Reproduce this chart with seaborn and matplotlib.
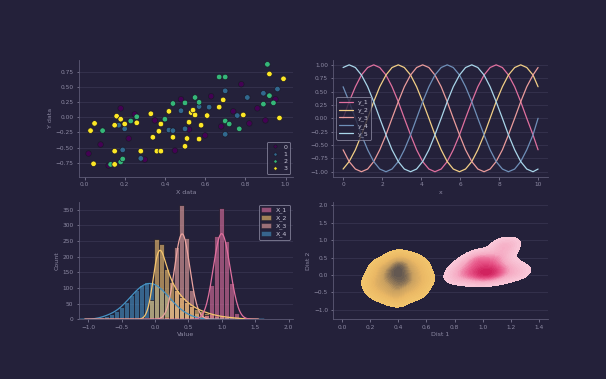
import matplotlib
matplotlib.use("Agg")
import matplotlib.pyplot as plt
import matplotlib.patches as mpatches
from matplotlib.colors import LinearSegmentedColormap
import pandas as pd
import seaborn as sns

BG = "#24213a"
FG = "#8d8aa3"
SPINE = "#5d5a75"
GRID = "#36334f"
EDGE = "#1b1929"

# --- top left: scatter, one list pair per group ---
g0_x = [0.02, 0.08, 0.12, 0.18, 0.22, 0.25, 0.30, 0.35, 0.45, 0.48, 0.52, 0.60, 0.63, 0.68, 0.74, 0.78, 0.82, 0.86, 0.90, 0.95]
g0_y = [-0.60, -0.45, -0.80, 0.15, -0.35, 0.05, -0.70, -0.05, -0.55, 0.30, -0.20, -0.30, 0.35, -0.15, 0.10, 0.55, -0.10, 0.15, -0.05, 0.30]
g1_x = [0.17, 0.19, 0.20, 0.28, 0.42, 0.44, 0.48, 0.50, 0.57, 0.62, 0.70, 0.70, 0.76, 0.81, 0.89, 0.96]
g1_y = [-0.13, -0.54, -0.19, -0.68, -0.21, -0.22, 0.11, -0.19, 0.18, 0.17, 0.44, -0.28, 0.03, 0.33, 0.40, 0.47]
g2_x = [0.09, 0.13, 0.18, 0.19, 0.23, 0.26, 0.40, 0.44, 0.50, 0.55, 0.57, 0.67, 0.70, 0.70, 0.72, 0.77, 0.89, 0.91, 0.92, 0.94]
g2_y = [-0.22, -0.78, -0.74, -0.69, -0.06, 0.01, -0.03, 0.23, 0.24, 0.33, 0.25, 0.67, 0.67, -0.06, -0.11, -0.19, 0.22, 0.88, 0.36, 0.24]
g3_x = [0.03, 0.05, 0.045, 0.15, 0.15, 0.15, 0.16, 0.18, 0.20, 0.26, 0.28, 0.33, 0.34, 0.36, 0.38, 0.37, 0.38,
        0.42, 0.44, 0.50, 0.51, 0.52, 0.53, 0.54, 0.55, 0.57, 0.58, 0.61, 0.67, 0.69, 0.79, 0.92, 0.97, 0.99]
g3_y = [-0.22, -0.10, -0.77, -0.78, -0.56, -0.13, 0.02, -0.03, -0.11, -0.09, -0.56, 0.06, -0.33, -0.56, -0.56, -0.23, -0.11,
        0.10, -0.33, -0.48, -0.35, -0.08, 0.08, 0.12, 0.04, -0.36, -0.13, 0.03, 0.17, 0.29, 0.04, 0.72, -0.01, 0.64]
scatter_colors = {0: "#440154", 1: "#31688e", 2: "#35b779", 3: "#fde725"}

# --- top right: five phase-shifted waves ---
line_x = [0.00, 0.31, 0.63, 0.94, 1.26, 1.57, 1.88, 2.20, 2.51, 2.83, 3.14, 3.46, 3.77, 4.08, 4.40, 4.71, 5.03,
          5.34, 5.65, 5.97, 6.28, 6.60, 6.91, 7.23, 7.54, 7.85, 8.17, 8.48, 8.80, 9.11, 9.42, 9.74, 10.00]
y_1 = [0, .31, .59, .81, .95, 1, .95, .81, .59, .31, 0, -.31, -.59, -.81, -.95, -1, -.95, -.81, -.59, -.31,
       0, .31, .59, .81, .95, 1, .95, .81, .59, .31, 0, -.31, -.59]
y_2 = [-.95, -.81, -.59, -.31, 0, .31, .59, .81, .95, 1, .95, .81, .59, .31, 0, -.31, -.59, -.81, -.95, -1,
       -.95, -.81, -.59, -.31, 0, .31, .59, .81, .95, 1, .95, .81, .59]
y_3 = [-.59, -.81, -.95, -1, -.95, -.81, -.59, -.31, 0, .31, .59, .81, .95, 1, .95, .81, .59, .31, 0, -.31,
       -.59, -.81, -.95, -1, -.95, -.81, -.59, -.31, 0, .31, .59, .81, .95]
y_4 = [.59, .31, 0, -.31, -.59, -.81, -.95, -1, -.95, -.81, -.59, -.31, 0, .31, .59, .81, .95, 1, .95, .81,
       .59, .31, 0, -.31, -.59, -.81, -.95, -1, -.95, -.81, -.59, -.31, 0]
y_5 = [.95, 1, .95, .81, .59, .31, 0, -.31, -.59, -.81, -.95, -1, -.95, -.81, -.59, -.31, 0, .31, .59, .81,
       .95, 1, .95, .81, .59, .31, 0, -.31, -.59, -.81, -.95, -1, -.95]
line_names = ["y_1", "y_2", "y_3", "y_4", "y_5"]
line_colors = ["#e0709f", "#f2cf86", "#eb9c9c", "#6f8fb8", "#a9d6ea"]

# --- bottom left: binned counts ---
hist_edges = [-0.9125, -0.8375, -0.7625, -0.6875, -0.6125, -0.5375, -0.4625, -0.3875, -0.3125, -0.2375,
              -0.1625, -0.0875, -0.0125, 0.0625, 0.1375, 0.2125, 0.2875, 0.3625, 0.4375, 0.5125, 0.5875,
              0.6625, 0.7375, 0.8125, 0.8875, 0.9625, 1.0375, 1.1125, 1.1875, 1.2625, 1.3375, 1.4125]
X_1 = [0] * 21 + [1, 15, 110, 265, 355, 250, 115, 20, 2, 0]
X_2 = [0] * 10 + [3, 60, 255, 240, 160, 120, 92, 72, 56, 44, 34, 27, 21, 16, 12, 9, 7, 5, 4, 2, 1]
X_3 = [0] * 14 + [8, 60, 230, 365, 260, 95, 20, 3] + [0] * 9
X_4 = [2, 6, 12, 18, 26, 39, 56, 76, 94, 109, 118, 119, 112, 98, 80, 60, 42, 28, 17, 10, 5, 2, 1] + [0] * 8
hist_names = ["X_1", "X_2", "X_3", "X_4"]
hist_colors = ["#e0709f", "#f5c46e", "#eca4a0", "#4592c4"]

# --- bottom right: two clusters for the density plot ---
gold_x = [0.40, 0.35, 0.45, 0.38, 0.42, 0.30, 0.50, 0.33, 0.47, 0.40, 0.28, 0.52, 0.37, 0.44, 0.25,
          0.55, 0.36, 0.43, 0.31, 0.49, 0.41, 0.39, 0.22, 0.58, 0.34, 0.46, 0.27, 0.53, 0.39, 0.41]
gold_y = [-0.07, 0.04, -0.13, -0.29, 0.14, -0.23, 0.04, 0.25, -0.40, 0.36, -0.02, -0.18, -0.56, 0.31, -0.40,
          0.20, 0.09, -0.23, -0.50, 0.34, -0.65, 0.43, -0.18, -0.13, -0.13, -0.02, 0.20, -0.45, -0.40, 0.20]
pink_x = [1.00, 1.05, 0.95, 1.08, 0.98, 1.02, 0.90, 1.12, 1.03, 0.97, 1.10, 0.92, 1.15, 0.88, 1.06,
          1.00, 1.18, 0.85, 1.13, 0.95, 1.07, 1.02, 0.99, 1.25, 0.82, 1.15, 0.94, 1.09, 1.16]
pink_y = [0.08, 0.00, 0.15, 0.15, -0.02, 0.30, 0.08, 0.08, -0.05, 0.45, 0.38, 0.30, -0.02, -0.02, 0.45,
          0.50, 0.22, 0.22, 0.55, -0.05, -0.02, 0.12, 0.22, 0.08, 0.00, 0.85, 0.45, 0.22, 0.80]

sns.set_theme(style="ticks", rc={
    "figure.facecolor": BG, "axes.facecolor": BG, "savefig.facecolor": BG,
    "axes.edgecolor": SPINE, "axes.labelcolor": FG, "text.color": FG,
    "xtick.color": FG, "ytick.color": FG, "axes.linewidth": 0.6,
    "axes.grid": True, "axes.grid.axis": "y", "grid.color": GRID, "grid.linewidth": 0.6,
    "font.size": 4.5, "axes.labelsize": 4.5, "xtick.labelsize": 4.2, "ytick.labelsize": 4.2,
    "legend.fontsize": 4.5, "xtick.major.size": 1.8, "ytick.major.size": 1.8,
    "xtick.major.width": 0.5, "ytick.major.width": 0.5,
    "xtick.major.pad": 2, "ytick.major.pad": 2, "axes.labelpad": 2,
})

fig, axes = plt.subplots(2, 2, figsize=(6.06, 3.79), dpi=100)
fig.subplots_adjust(left=0.130, right=0.904, top=0.843, bottom=0.1575, wspace=0.187, hspace=0.21)
ax1, ax2, ax3, ax4 = axes.ravel()


def legend_style(leg):
    leg.get_frame().set_facecolor(BG)
    leg.get_frame().set_edgecolor("#9a98b0")
    leg.get_frame().set_linewidth(0.6)
    for t in leg.get_texts():
        t.set_color("#c8c6d8")


# scatter
scatter_df = pd.concat([
    pd.DataFrame({"x": g0_x, "y": g0_y, "group": 0}),
    pd.DataFrame({"x": g1_x, "y": g1_y, "group": 1}),
    pd.DataFrame({"x": g2_x, "y": g2_y, "group": 2}),
    pd.DataFrame({"x": g3_x, "y": g3_y, "group": 3}),
])
sns.scatterplot(data=scatter_df, x="x", y="y", hue="group", palette=scatter_colors,
                s=16, edgecolor=EDGE, linewidth=0.5, ax=ax1)
ax1.set_ylim(-0.99, 0.96)
ax1.set_xlabel("X data")
ax1.set_ylabel("Y data")
h, l = ax1.get_legend_handles_labels()
leg = ax1.legend(h, l, loc="lower right", markerscale=0.6, handletextpad=0.3, borderpad=0.4, labelspacing=0.3)
legend_style(leg)

# waves
line_df = pd.concat([pd.DataFrame({"x": line_x, "y": vals, "series": name})
                     for name, vals in zip(line_names, [y_1, y_2, y_3, y_4, y_5])])
sns.lineplot(data=line_df, x="x", y="y", hue="series", palette=line_colors, linewidth=0.9, ax=ax2)
ax2.set_xlabel("x")
ax2.set_ylabel("")
h, l = ax2.get_legend_handles_labels()
leg = ax2.legend(h, l, loc="center left", handlelength=2.2, borderpad=0.4, labelspacing=0.3)
legend_style(leg)

# histograms
centers = [(a + b) / 2 for a, b in zip(hist_edges[:-1], hist_edges[1:])]
hist_counts = [X_1, X_2, X_3, X_4]
bw = {"X_1": 1.0, "X_2": 0.35, "X_3": 1.0, "X_4": 0.5}
cut = {"X_1": 0.5, "X_2": 1.5, "X_3": 0.5, "X_4": 1.5}
for name, counts, color in list(zip(hist_names, hist_counts, hist_colors))[::-1]:
    sns.histplot(x=centers, weights=counts, bins=hist_edges, kde=True, color=color, alpha=0.6,
                 edgecolor=EDGE, linewidth=0.5, line_kws={"linewidth": 0.9},
                 kde_kws={"bw_adjust": bw[name], "cut": cut[name]}, ax=ax3)
ax3.set_xlim(-1.14, 2.07)
ax3.set_ylim(0, 375)
ax3.set_xticks([-1.0, -0.5, 0.0, 0.5, 1.0, 1.5, 2.0])
ax3.set_xlabel("Value")
ax3.set_ylabel("Count")
handles = [mpatches.Patch(facecolor=c, alpha=0.6, edgecolor=EDGE, linewidth=0.5) for c in hist_colors]
leg = ax3.legend(handles, hist_names, loc="upper right", handlelength=1.6, borderpad=0.4, labelspacing=0.3)
legend_style(leg)

# bivariate densities
gold_cmap = LinearSegmentedColormap.from_list("gold", ["#f2c46c", "#eab865", "#c9a060", "#5e5450"])
pink_cmap = LinearSegmentedColormap.from_list("pinks", ["#f9c9d9", "#f5a9c2", "#e8588a", "#cf1f5c"])
sns.kdeplot(x=gold_x, y=gold_y, fill=True, cmap=gold_cmap, levels=25, thresh=0.03, ax=ax4)
sns.kdeplot(x=pink_x, y=pink_y, fill=True, cmap=pink_cmap, levels=25, thresh=0.03, ax=ax4)
ax4.set_xlim(-0.06, 1.46)
ax4.set_ylim(-1.27, 2.1)
ax4.set_xticks([0.0, 0.2, 0.4, 0.6, 0.8, 1.0, 1.2, 1.4])
ax4.set_yticks([-1.0, -0.5, 0.0, 0.5, 1.0, 1.5, 2.0])
ax4.set_xlabel("Dist 1")
ax4.set_ylabel("Dist 2")

for ax in axes.ravel():
    sns.despine(ax=ax)
    ax.set_axisbelow(True)

fig.savefig("out.png", dpi=100, facecolor=BG)
